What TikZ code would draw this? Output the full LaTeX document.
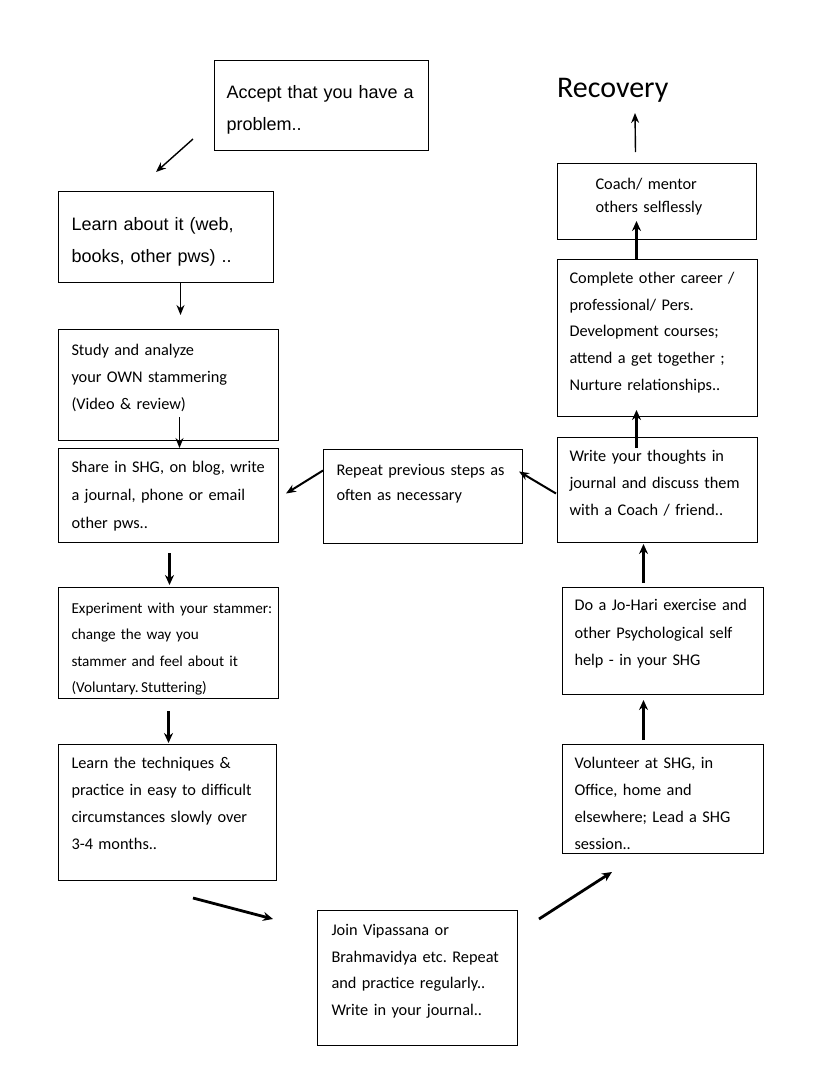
\documentclass[tikz,border=0pt]{standalone}
\usepackage{fontspec}
\usetikzlibrary{arrows.meta}
\newfontfamily\arialfont{Liberation Sans}
\newfontfamily\calibfont{Carlito}
\frenchspacing

\begin{document}
\begin{tikzpicture}[x=1pt, y=-1pt,
        stepbox/.style={draw, line width=1pt, anchor=north west, align=left, inner ysep=0pt},
        arial/.style={font=\arialfont\fontsize{18}{31.5}\selectfont},
        calib/.style={font=\calibfont\fontsize{16.3}{27}\selectfont},
        thinarrow/.style={-{Stealth[length=10pt,width=8pt]}, line width=1.4pt},
        thickarrow/.style={-{Stealth[length=10pt,width=9pt]}, line width=2.8pt},
        midarrow/.style={-{Stealth[length=10pt,width=8pt]}, line width=2pt}]
        \path [use as bounding box, fill=white] (0,0) rectangle (835,1077);

        \node [stepbox, arial, inner xsep=12pt, text width=190pt, text height=38pt, text depth=52pt] (accept) at (214,60) {Accept that you have a\\problem..};
        \node [stepbox, arial, inner xsep=13pt, text width=189pt, text height=39pt, text depth=52pt] (learn) at (58,191) {Learn about it (web,\\books, other pws) ..};
        \node [stepbox, calib, inner xsep=13pt, text width=194pt, text height=26pt, text depth=85pt] (study) at (58,329) {Study and analyze\\your OWN stammering\\(Video \& review)};
        \node [stepbox, calib, inner xsep=13pt, text width=194pt, text height=24pt, text depth=70pt, font=\calibfont\fontsize{16.3}{28}\selectfont] (share) at (58,448) {\mbox{Share in SHG, on blog, write}\\a journal, phone or email\\other pws..};
        \node [stepbox, inner xsep=13pt, text width=194pt, text height=26pt, text depth=85pt, font=\calibfont\fontsize{15.2}{26.4}\selectfont] (exper) at (58,587) {\mbox{Experiment with your stammer:}\\change the way you\\stammer and feel about it\\\mbox{(Voluntary.\,Stuttering)}};
        \node [stepbox, calib, inner xsep=13pt, text width=192pt, text height=24pt, text depth=112pt] (tech) at (58,744) {Learn the techniques \&\\\mbox{practice in easy to difficult}\\circumstances slowly over\\3-4 months..};
        \node [stepbox, calib, inner xsep=14pt, text width=172pt, text height=25pt, text depth=110pt, font=\calibfont\fontsize{16.3}{26.7}\selectfont] (join) at (317,910) {Join Vipassana or\\\mbox{Brahmavidya etc. Repeat}\\and practice regularly..\\Write in your journal..};
        \node [stepbox, calib, inner xsep=12pt, text width=177pt, text height=24pt, text depth=85pt] (vol) at (562,744) {Volunteer at SHG, in\\Office, home and\\elsewhere; Lead a SHG\\session..};
        \node [stepbox, calib, inner xsep=12pt, text width=177pt, text height=23pt, text depth=84pt, font=\calibfont\fontsize{16.3}{27.5}\selectfont] (johari) at (562,587) {\mbox{Do a Jo-Hari exercise and}\\other Psychological self\\help - in your SHG};
        \node [stepbox, calib, inner xsep=12pt, text width=176pt, text height=24pt, text depth=81pt] (write) at (557,437) {Write your thoughts in\\\mbox{journal and discuss them}\\with a Coach / friend..};
        \node [stepbox, calib, inner xsep=12pt, text width=176pt, text height=24pt, text depth=133pt, font=\calibfont\fontsize{16.3}{26.7}\selectfont] (complete) at (557,259) {Complete other career /\\professional/ Pers.\\Development courses;\\attend a get together ;\\Nurture relationships..};
        \node [stepbox, calib, inner xsep=38pt, text width=123pt, text height=26pt, text depth=50pt, font=\calibfont\fontsize{16.3}{23}\selectfont] (coach) at (557,163) {Coach/ mentor\\others selflessly};
        \node [stepbox, calib, inner xsep=13pt, text width=173pt, text height=26pt, text depth=68pt, font=\calibfont\fontsize{16.3}{25}\selectfont] (again) at (323,449) {\mbox{Repeat previous steps as}\\often as necessary};
        \node [anchor=base west, inner sep=0pt, font=\calibfont\fontsize{30}{36}\selectfont] (recovery) at (557,97) {Recovery};

        \draw [thinarrow] ([shift={(-21,-12)}]accept.south west) -- ([shift={(98,-19)}]learn.north west);
        \draw [thinarrow] ([shift={(14.5,0)}]learn.south) -- ([shift={(12,-14)}]study.north);
        \draw [thinarrow] ([shift={(11,-24)}]study.south) -- ([shift={(11,0)}]share.north);
        \draw [thickarrow] ([shift={(1,10)}]share.south) -- ([shift={(1,-2)}]exper.north);
        \draw [thickarrow] ([shift={(0,12)}]exper.south) -- ([shift={(1,-1)}]tech.north);
        \draw [thickarrow] ([shift={(135,17)}]tech.south west) -- ([shift={(-44,9)}]join.north west);
        \draw [thickarrow] ([shift={(21,9)}]join.north east) -- ([shift={(50,18)}]vol.south west);
        \draw [thickarrow] ([shift={(-19.5,-4)}]vol.north) -- ([shift={(-19.5,5)}]johari.south);
        \draw [thickarrow] ([shift={(-19.5,-4)}]johari.north) -- ([shift={(-14,1)}]write.south);
        \draw [thickarrow] ([shift={(-21,11)}]write.north) -- ([shift={(-21,-7)}]complete.south);
        \draw [thickarrow] ([shift={(-21,0)}]complete.north) -- ([shift={(-20.5,-19)}]coach.south);
        \draw [thinarrow] ([shift={(-21.5,-11)}]coach.north) -- ([shift={(78,16)}]recovery.base west);
        \draw [midarrow] ([shift={(-1,3.5)}]write.west) -- ([shift={(-4,-25)}]again.east);
        \draw [midarrow] ([shift={(0,-26)}]again.west) -- ([shift={(7,-2)}]share.east);
    \end{tikzpicture}
\end{document}
